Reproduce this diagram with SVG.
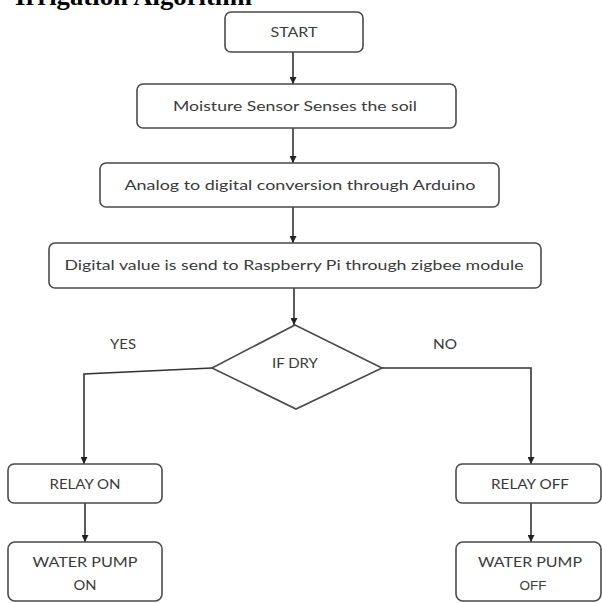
<svg xmlns="http://www.w3.org/2000/svg" width="602" height="603" viewBox="0 0 602 603">
<style>
.box{fill:#fff;stroke:#4a4a4a;stroke-width:1.6}
.t{font-family:Lato,"Liberation Sans",sans-serif;font-size:14px;fill:#3a3a3a;text-anchor:middle}
.c{fill:none;stroke:#333;stroke-width:1.6}
.title{font-family:"Liberation Serif",serif;font-weight:bold;font-size:26px;fill:#000}
</style>
<defs>
<marker id="ah" viewBox="0 0 8 8" refX="8" refY="4" markerWidth="7" markerHeight="7" markerUnits="userSpaceOnUse" orient="auto">
<path d="M0,0 L8,4 L0,8 Z" fill="#222"/>
</marker>
</defs>
<rect width="602" height="603" fill="#fff"/>
<text class="title" x="15" y="5" textLength="237" lengthAdjust="spacingAndGlyphs">Irrigation Algorithm</text>

<g id="connectors">
<line class="c" x1="293" y1="52" x2="293" y2="84" marker-end="url(#ah)"/>
<line class="c" x1="293" y1="128" x2="293" y2="163" marker-end="url(#ah)"/>
<line class="c" x1="293" y1="207" x2="293" y2="243" marker-end="url(#ah)"/>
<line class="c" x1="294" y1="288" x2="294" y2="325" marker-end="url(#ah)"/>
<polyline class="c" points="212,368 84,374 84,464" marker-end="url(#ah)"/>
<polyline class="c" points="382,368 531,368 531,464" marker-end="url(#ah)"/>
<line class="c" x1="85" y1="503" x2="85" y2="542" marker-end="url(#ah)"/>
<line class="c" x1="531" y1="503" x2="531" y2="542" marker-end="url(#ah)"/>
</g>

<g id="start">
<rect class="box" x="225" y="12" width="138" height="40" rx="6"/>
<text class="t" x="294" y="37" textLength="47" lengthAdjust="spacingAndGlyphs">START</text>
</g>
<g id="sense">
<rect class="box" x="137" y="84" width="319" height="44" rx="6"/>
<text class="t" x="295" y="111" textLength="244" lengthAdjust="spacingAndGlyphs">Moisture Sensor Senses the soil</text>
</g>
<g id="adc">
<rect class="box" x="100" y="163" width="399" height="44" rx="6"/>
<text class="t" x="300" y="190" textLength="351" lengthAdjust="spacingAndGlyphs">Analog to digital conversion through Arduino</text>
</g>
<g id="send">
<rect class="box" x="49" y="243" width="492" height="45" rx="6"/>
<text class="t" x="294" y="270" textLength="459" lengthAdjust="spacingAndGlyphs">Digital value is send to Raspberry Pi through zigbee module</text>
</g>
<g id="decision">
<polygon class="box" points="295,325 382,368 296,409 212,368"/>
<text class="t" x="295" y="368" textLength="46" lengthAdjust="spacingAndGlyphs">IF DRY</text>
</g>
<g id="labels">
<text class="t" x="123" y="349" textLength="26" lengthAdjust="spacingAndGlyphs">YES</text>
<text class="t" x="445" y="349" textLength="24" lengthAdjust="spacingAndGlyphs">NO</text>
</g>
<g id="relay-on">
<rect class="box" x="8" y="464" width="154" height="39" rx="6"/>
<text class="t" x="85" y="489" textLength="71" lengthAdjust="spacingAndGlyphs">RELAY ON</text>
</g>
<g id="pump-on">
<rect class="box" x="8" y="542" width="154" height="59" rx="7"/>
<text class="t" x="85" y="567" textLength="105" lengthAdjust="spacingAndGlyphs">WATER PUMP</text>
<text class="t" x="85" y="590" textLength="23" lengthAdjust="spacingAndGlyphs">ON</text>
</g>
<g id="relay-off">
<rect class="box" x="456" y="464" width="145" height="39" rx="6"/>
<text class="t" x="530" y="489" textLength="78" lengthAdjust="spacingAndGlyphs">RELAY OFF</text>
</g>
<g id="pump-off">
<rect class="box" x="456" y="542" width="145" height="59" rx="7"/>
<text class="t" x="530" y="567" textLength="104" lengthAdjust="spacingAndGlyphs">WATER PUMP</text>
<text class="t" x="533" y="590" style="font-family:'Liberation Sans',sans-serif;font-size:13.5px">OFF</text>
</g>
</svg>
